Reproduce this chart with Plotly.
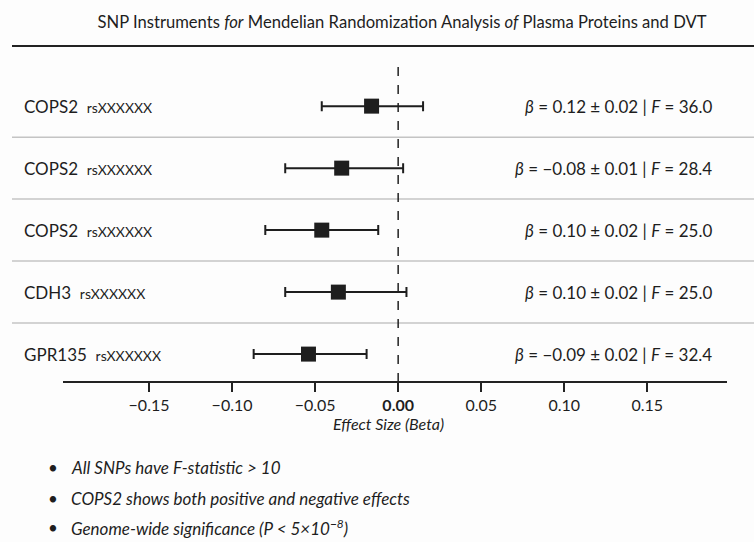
import plotly.graph_objects as go

genes = ["COPS2", "COPS2", "COPS2", "CDH3", "GPR135"]
rsids = ["rsXXXXXX", "rsXXXXXX", "rsXXXXXX", "rsXXXXXX", "rsXXXXXX"]
plot_beta = [-0.016, -0.034, -0.046, -0.036, -0.054]
ci_low = [-0.046, -0.068, -0.080, -0.068, -0.087]
ci_high = [0.015, 0.003, -0.012, 0.005, -0.019]
beta_text = ["0.12", "\u22120.08", "0.10", "0.10", "\u22120.09"]
se_text = ["0.02", "0.01", "0.02", "0.02", "0.02"]
f_stat = [36.0, 28.4, 25.0, 25.0, 32.4]
tick_vals = [-0.15, -0.10, -0.05, 0.0, 0.05, 0.10, 0.15]
tick_text = ["\u22120.15", "\u22120.10", "\u22120.05", "<b>0.00</b>", "0.05", "0.10", "0.15"]
notes = [
    "All SNPs have F-statistic > 10",
    "COPS2 shows both positive and negative effects",
    "Genome-wide significance (P < 5\u00d710<sup>\u22128</sup>)",
]
title = "SNP Instruments <i>for</i> Mendelian Randomization Analysis <i>of</i> Plasma Proteins and DVT"

FONT = "Lato"
INK = "#1e1e1e"
n = len(genes)
ypos = [n - 1 - i for i in range(n)]

L, R, T, B = 63, 27, 46, 160
W, H = 754, 542
pw = W - L - R
ph = H - T - B

def px_x(px):
    return (px - L) / pw

def px_y(py):
    return (H - B - py) / ph

fig = go.Figure()
fig.add_trace(go.Scatter(
    x=plot_beta, y=ypos, mode="markers",
    marker=dict(symbol="square", size=15, color=INK),
    error_x=dict(type="data", symmetric=False,
                 array=[h - b for h, b in zip(ci_high, plot_beta)],
                 arrayminus=[b - l for l, b in zip(ci_low, plot_beta)],
                 color=INK, thickness=2, width=5),
    showlegend=False, hoverinfo="skip",
))

shapes = []
shapes.append(dict(type="line", xref="paper", yref="paper",
                   x0=px_x(12), x1=px_x(754), y0=1, y1=1,
                   line=dict(color="#222", width=2)))
for k in range(n - 1):
    shapes.append(dict(type="line", xref="paper", yref="y",
                       x0=px_x(12), x1=px_x(754), y0=k + 0.5, y1=k + 0.5,
                       line=dict(color="#c4c4c4", width=1.5)))
shapes.append(dict(type="line", xref="x", yref="paper", x0=0, x1=0,
                   y0=0, y1=px_y(58),
                   line=dict(color="#222", width=1.5, dash="dash")))
shapes.append(dict(type="line", xref="paper", yref="paper", x0=0, x1=1, y0=0, y1=0,
                   line=dict(color="#222", width=2)))

ann = []
for i in range(n):
    ann.append(dict(xref="paper", yref="y", x=px_x(22), y=ypos[i],
                    xanchor="left", yanchor="middle", showarrow=False,
                    text=f"<span style='font-size:17px'>{genes[i]}</span>  "
                         f"<span style='font-size:14px'>{rsids[i]}</span>",
                    font=dict(family=FONT, size=17, color=INK)))
    ann.append(dict(xref="paper", yref="y", x=px_x(714), y=ypos[i],
                    xanchor="right", yanchor="middle", showarrow=False,
                    text=f"<i>\u03b2</i> = {beta_text[i]} \u00b1 {se_text[i]} | <i>F</i> = {f_stat[i]:.1f}",
                    font=dict(family=FONT, size=17, color=INK)))

ann.append(dict(xref="paper", yref="paper", x=px_x(388), y=px_y(423),
                xanchor="center", yanchor="middle", showarrow=False,
                text="<i>Effect Size (Beta)</i>",
                font=dict(family=FONT, size=16, color=INK)))

note_y = [467, 498, 527]
for t, py in zip(notes, note_y):
    ann.append(dict(xref="paper", yref="paper", x=px_x(53), y=px_y(py),
                    xanchor="center", yanchor="middle", showarrow=False,
                    text="\u2022", font=dict(family=FONT, size=17, color=INK)))
    ann.append(dict(xref="paper", yref="paper", x=px_x(69), y=px_y(py),
                    xanchor="left", yanchor="middle", showarrow=False,
                    text=f"<i>{t}</i>", font=dict(family=FONT, size=17, color=INK)))

fig.update_layout(
    width=W, height=H,
    margin=dict(l=L, r=R, t=T, b=B),
    paper_bgcolor="#fdfdfd", plot_bgcolor="#fdfdfd",
    font=dict(family=FONT, color=INK),
    title=dict(text=title, x=402 / W, xanchor="center", y=1 - 22 / H, yanchor="middle",
               font=dict(family=FONT, size=16.6, color=INK)),
    xaxis=dict(range=[-0.2018, 0.198], tickvals=tick_vals, ticktext=tick_text,
               ticks="outside", ticklen=9, tickwidth=1.5, tickcolor="#222",
               showgrid=False, zeroline=False, showline=False,
               tickfont=dict(family=FONT, size=16, color=INK)),
    yaxis=dict(range=[-0.45, 4.97], showticklabels=False, showgrid=False,
               zeroline=False, showline=False, ticks=""),
    shapes=shapes, annotations=ann,
)
fig.write_html("out.html", config={"displayModeBar": False},
               post_script="document.body.style.margin='0px';")
